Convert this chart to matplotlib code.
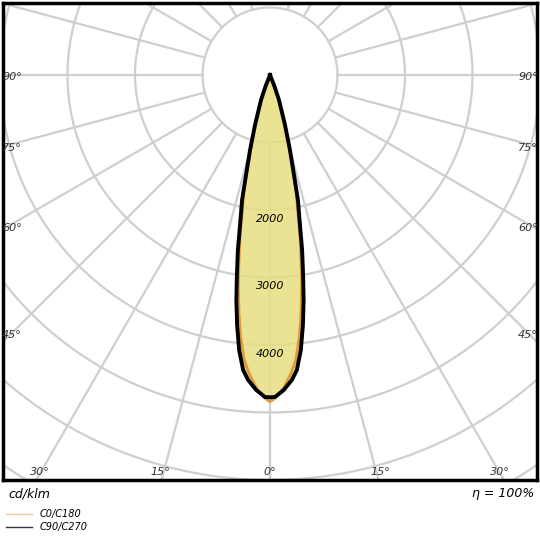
import numpy as np
import matplotlib
matplotlib.use("Agg")
import matplotlib.pyplot as plt

gamma = [0, 0.9, 2.5, 4.1, 5.2, 6.4, 7.5, 8.5, 9.4, 10.4, 11.3, 12.6, 13.5, 14.9, 16.7, 19.8, 21.8, 25]
c90_c270 = [4775, 4771, 4671, 4530, 4389, 4100, 3736, 3370, 3003, 2636, 2266, 1898, 1523, 1150, 773, 394, 160, 0]
c0_c180 = [4840, 4790, 4640, 4420, 4230, 3900, 3530, 3170, 2820, 2470, 2120, 1780, 1430, 1080, 720, 360, 140, 0]
ring_values = [1000, 2000, 3000, 4000, 5000, 6000, 7000, 8000, 9000]
ring_labels = ["2000", "3000", "4000"]
side_labels = ["90", "75", "60", "45"]
bottom_labels = ["30", "15", "0", "15", "30"]

fig = plt.figure(figsize=(5.4, 5.4), dpi=100)
ax = fig.add_axes([3/540, 60/540, 534/540, 477/540])
s = 1000/67.5
ax.set_xlim(-267*s, 267*s)
ax.set_ylim(-405*s, 72*s)
ax.set_xticks([]); ax.set_yticks([])
for sp in ax.spines.values():
    sp.set_linewidth(2.5)

gc = "#cfcfcf"
t = np.linspace(0, 2*np.pi, 400)
for r in ring_values:
    ax.plot(r*np.cos(t), r*np.sin(t), color=gc, lw=1.6, zorder=1)
for a in np.arange(0, 360, 15):
    if a == 180:
        continue
    ar = np.radians(a)
    ax.plot([1000*np.sin(ar), 12000*np.sin(ar)], [-1000*np.cos(ar), -12000*np.cos(ar)],
            color=gc, lw=1.6, zorder=1)

def curve(vals):
    g = np.radians(np.array(gamma))
    v = np.array(vals, float)
    gg = np.concatenate([-g[::-1], g[1:]])
    vv = np.concatenate([v[::-1], v[1:]])
    return vv*np.sin(gg), -vv*np.cos(gg)

x1, y1 = curve(c90_c270)
x0, y0 = curve(c0_c180)
ax.fill(x1, y1, color="#e6df80", alpha=0.85, zorder=2, lw=0)
ax.plot(x0, y0, color="#e09a3a", lw=2, zorder=3)
ax.plot(x1, y1, color="black", lw=2.8, zorder=4, solid_joinstyle="round")

for i, lab in enumerate(ring_labels):
    r = 2000 + 1000*i
    ax.text(0, -r - 130, lab, ha="center", va="center", fontsize=8, style="italic", zorder=5)

fkw = dict(fontsize=8, style="italic", color="#333333")
for lab, ypx in zip(side_labels, [77, 148, 228, 335]):
    fig.text(12/540, 1-ypx/540, lab + "°", ha="center", va="center", **fkw)
    fig.text(528/540, 1-ypx/540, lab + "°", ha="center", va="center", **fkw)
for lab, xpx in zip(bottom_labels, [40, 160, 270, 380, 500]):
    fig.text(xpx/540, 1-472/540, lab + "°", ha="center", va="center", **fkw)

fig.text(8/540, 1-494/540, "cd/klm", ha="left", va="center", fontsize=9, style="italic")
fig.text(534/540, 1-494/540, "η = 100%", ha="right", va="center", fontsize=9, style="italic")
fig.add_artist(plt.Line2D([6/540, 32/540], [1-514/540]*2, color="#e8c8a0", lw=1))
fig.add_artist(plt.Line2D([6/540, 32/540], [1-527/540]*2, color="#333344", lw=1))
fig.text(40/540, 1-514/540, "C0/C180", ha="left", va="center", fontsize=7, style="italic")
fig.text(40/540, 1-527/540, "C90/C270", ha="left", va="center", fontsize=7, style="italic")

fig.savefig("out.png", dpi=100)
